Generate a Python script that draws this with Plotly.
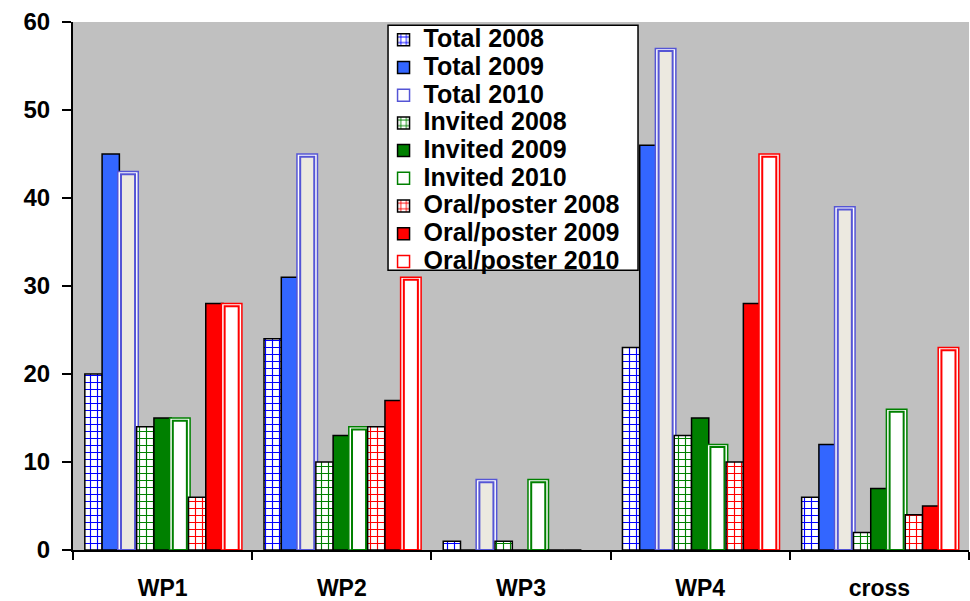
import plotly.graph_objects as go

categories = ["WP1", "WP2", "WP3", "WP4", "cross"]

total_2008 = [20, 24, 1, 23, 6]
total_2009 = [45, 31, 0, 46, 12]
total_2010 = [43, 45, 8, 57, 39]
invited_2008 = [14, 10, 1, 13, 2]
invited_2009 = [15, 13, 0, 15, 7]
invited_2010 = [15, 14, 8, 12, 16]
oral_2008 = [6, 14, 0, 10, 4]
oral_2009 = [28, 17, 0, 28, 5]
oral_2010 = [28, 31, 0, 45, 23]

series_names = ["Total 2008", "Total 2009", "Total 2010",
                "Invited 2008", "Invited 2009", "Invited 2010",
                "Oral/poster 2008", "Oral/poster 2009", "Oral/poster 2010"]
series_values = [total_2008, total_2009, total_2010,
                 invited_2008, invited_2009, invited_2010,
                 oral_2008, oral_2009, oral_2010]

FONT = "Arial, Liberation Sans, sans-serif"
W = 0.0964
START = -0.434
PAD = 0.009      # ~1.5 px in category units
INSET_Y = 0.3    # ~2.5 px in data units

blue = "#0000FF"
blue_fill = "#3366FF"
blue_edge = "#5555D5"
green = "#008000"
red = "#FF0000"


def legend_label(s):
    return "<span style='font-size:25px'>" + s + "</span>"


fig = go.Figure()

for i, (name, vals) in enumerate(zip(series_names, series_values)):
    off = START + i * W
    kind = i % 3
    color = [blue, green, red][i // 3]
    label = legend_label(name)
    if kind == 0:  # 2008: grid pattern
        fig.add_trace(go.Bar(
            x=categories, y=vals, name=label, offset=off, width=W,
            marker=dict(color="white", line=dict(color="black", width=1.5),
                        pattern=dict(shape="+", fgcolor=color, bgcolor="white",
                                     size=7, solidity=0.3, fillmode="replace")),
        ))
    elif kind == 1:  # 2009: solid
        fill = [blue_fill, green, red][i // 3]
        fig.add_trace(go.Bar(
            x=categories, y=vals, name=label, offset=off, width=W,
            marker=dict(color=fill, line=dict(color="black", width=1.5)),
        ))
    else:  # 2010: double outline
        edge = [blue_edge, green, red][i // 3]
        inner_fill = ["#ECE9E0", "white", "white"][i // 3]
        outer_vals = [v if v > 0 else None for v in vals]
        inner_vals = [v - INSET_Y if v > 0 else None for v in vals]
        fig.add_trace(go.Bar(
            x=categories, y=outer_vals, name=label, offset=off - PAD, width=W + 2 * PAD,
            marker=dict(color="white", line=dict(color=edge, width=1.5)),
        ))
        fig.add_trace(go.Bar(
            x=categories, y=inner_vals, name=label, offset=off + PAD, width=W - 2 * PAD,
            marker=dict(color=inner_fill, line=dict(color=edge, width=2)),
            showlegend=False,
        ))

fig.update_layout(
    width=970, height=601,
    barmode="overlay",
    plot_bgcolor="#C0C0C0",
    paper_bgcolor="white",
    margin=dict(l=73, r=1, t=22, b=51),
    font=dict(family=FONT, size=20, color="black", weight="bold"),
    showlegend=True,
    legend=dict(
        x=0.3516 - 0.005, y=1.002, xanchor="left", yanchor="top",
        bgcolor="rgba(0,0,0,0)", borderwidth=0,
        font=dict(family=FONT, size=19, color="black", weight="bold"),
        traceorder="normal", tracegroupgap=0,
    ),
    shapes=[dict(type="rect", xref="paper", yref="paper",
                 x0=0.3516, x1=0.6306, y0=0.530, y1=0.994,
                 fillcolor="white", line=dict(color="black", width=1.5),
                 layer="above")],
    xaxis=dict(
        type="category", range=[-0.5, 4.5], tickson="boundaries",
        ticks="outside", ticklen=8, tickwidth=1.5, tickcolor="black",
        showline=True, linecolor="black", linewidth=2,
        showgrid=False, zeroline=False, ticklabelstandoff=16,
        tickfont=dict(family=FONT, size=23, color="black", weight="bold"),
    ),
    yaxis=dict(
        range=[0, 60], dtick=10, tick0=0,
        ticks="outside", ticklen=9, tickwidth=1.5, tickcolor="black",
        showline=True, linecolor="black", linewidth=2,
        showgrid=False, zeroline=False, ticklabelstandoff=7,
        tickfont=dict(family=FONT, size=24, color="black", weight="bold"),
    ),
)

fig.write_html("out.html", config={"displayModeBar": False},
               post_script="document.body.style.margin='0';")
